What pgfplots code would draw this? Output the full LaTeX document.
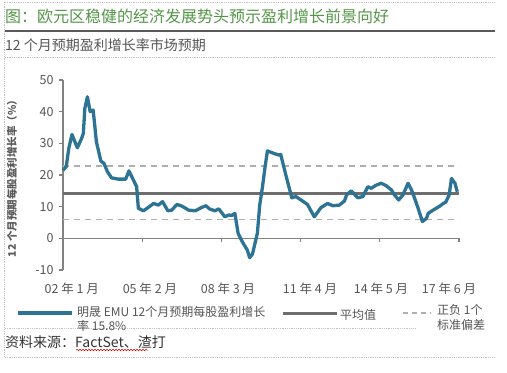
\documentclass[border=0pt]{standalone}
\usepackage{pgfplots}
\pgfplotsset{compat=1.18}
\usepackage{fontspec}
\setmainfont{Noto Sans CJK SC}
\usetikzlibrary{decorations.pathmorphing}
\definecolor{titlegreen}{RGB}{84,150,72}
\definecolor{rulegray}{RGB}{90,90,90}
\definecolor{textgray}{RGB}{85,85,85}
\definecolor{axisgray}{RGB}{130,130,130}
\definecolor{meangray}{RGB}{110,110,110}
\definecolor{dashgray}{RGB}{175,175,175}
\definecolor{dotgray}{RGB}{195,195,195}
\definecolor{seriesblue}{RGB}{45,115,148}
\begin{document}
\begin{tikzpicture}
\path[use as bounding box] (0,0) rectangle (507bp,-373bp);
% frame lines
\draw[dotgray, densely dotted, line width=0.8bp] (5bp,-2bp) -- (495bp,-2bp);
\draw[dotgray, densely dotted, line width=0.8bp] (5bp,-57bp) -- (495bp,-57bp);
\draw[dotgray, densely dotted, line width=0.8bp] (4bp,-2bp) -- (4bp,-357bp);
\draw[dotgray, densely dotted, line width=0.8bp] (5bp,-328bp) -- (415bp,-328bp);
\draw[dotgray, densely dotted, line width=0.8bp] (5bp,-357bp) -- (495bp,-357bp);
\node[anchor=west, inner sep=0, text=titlegreen, font=\fontsize{16bp}{18bp}\selectfont] at (5bp,-16bp) {图：欧元区稳健的经济发展势头预示盈利增长前景向好};
\draw[rulegray, line width=1.3bp] (5bp,-31bp) -- (495bp,-31bp);
\node[anchor=west, inner sep=0, text=textgray, font=\fontsize{14bp}{16bp}\selectfont] at (5bp,-45bp) {12 个月预期盈利增长率市场预期};
\node[rotate=90, inner sep=0, text=rulegray, font=\fontsize{10.5bp}{12bp}\selectfont\bfseries] at (12bp,-176bp) {12 个月预期每股盈利增长率（\%）};
\begin{axis}[
  at={(63bp,-270bp)}, anchor=south west,
  scale only axis, width=396bp, height=190bp,
  xmin=0, xmax=185, ymin=-10, ymax=50,
  axis y line*=left, axis x line*=bottom,
  axis line style={-},
  x axis line style={draw=none},
  y axis line style={draw=axisgray, line width=1.2bp},
  ytick={-10,0,10,20,30,40,50},
  ytick style={draw=axisgray, line width=1.2bp},
  tick align=outside, major tick length=4bp,
  xtick={4.1,40.6,77.1,115.4,148.6,180.3},
  xticklabels={02 年 1 月,05 年 2 月,08 年 3 月,11 年 4 月,14 年 5 月,17 年 6 月},
  xtick style={draw=none},
  xticklabel style={yshift=-5bp},
  /pgf/number format/assume math mode=true,
  ticklabel style={text=textgray, font=\fontsize{12.5bp}{14bp}\selectfont},
  yticklabel style={xshift=-2bp},
  clip=false,
]
\addplot[axisgray, line width=1.2bp] coordinates {(0,0) (185,0)};
\addplot[dashgray, line width=1.4bp, dash pattern=on 6bp off 5bp] coordinates {(0,22.8) (185,22.8)};
\addplot[dashgray, line width=1.4bp, dash pattern=on 6bp off 5bp] coordinates {(0,5.9) (185,5.9)};
\addplot[meangray, line width=3bp] coordinates {(0,14.3) (185,14.3)};
\draw[axisgray, line width=1.2bp] (axis cs:37,0) -- (axis cs:37,-1.3);
\draw[axisgray, line width=1.2bp] (axis cs:74,0) -- (axis cs:74,-1.3);
\draw[axisgray, line width=1.2bp] (axis cs:111,0) -- (axis cs:111,-1.3);
\draw[axisgray, line width=1.2bp] (axis cs:148,0) -- (axis cs:148,-1.3);
\draw[axisgray, line width=1.2bp] (axis cs:185,0) -- (axis cs:185,-1.3);
\addplot[seriesblue, line width=3.3bp, line join=round] coordinates {
(0,21.5) (1.5,22.6) (2.7,28.4) (4.2,32.8) (6.7,28.6) (8.6,31.4) (9.5,33.1)
(10.2,41.0) (11.4,44.7) (12.7,40.0) (14.1,40.5) (15.6,30.5) (17.7,24.4)
(19.1,23.7) (20.8,21.0) (22.7,19.1) (25.8,18.7) (29.3,18.7) (30.8,21.3)
(32.9,18.4) (34.4,16.3) (35.2,9.5) (37.6,8.7) (39.9,9.8) (42.3,11.0)
(44.6,10.5) (46.5,11.6) (49.0,8.7) (50.8,8.9) (53.2,10.7) (55.5,10.2)
(58.7,8.9) (61.8,8.7) (64.9,9.8) (66.8,10.3) (68.4,9.3) (70.9,8.7)
(72.8,9.3) (75.6,6.8) (77.5,7.4) (78.7,7.2) (80.3,7.9) (81.8,1.6)
(83.7,-1.0) (86.1,-3.7) (87.2,-6.1) (88.5,-5.0) (90.8,1.6) (91.9,10.5)
(93.1,15.8) (94.4,22.6) (95.5,27.6) (98.6,26.8) (100.9,26.3) (101.7,26.5)
(104.1,20.0) (106.9,12.8) (108.8,13.2) (111.9,11.8) (114.2,10.7)
(117.4,6.8) (120.5,9.7) (123.6,11.0) (124.7,10.7) (126.0,10.3) (129.1,10.5)
(131.5,11.8) (132.5,13.7) (134.6,15.0) (137.7,12.8) (140.1,13.2)
(142.4,16.3) (144.0,15.8) (146.3,16.8) (148.7,17.4) (151.0,16.6)
(153.4,15.3) (154.9,13.7) (156.8,12.1) (158.8,13.7) (161.2,17.4)
(162.8,15.3) (164.3,12.6) (165.9,9.5) (167.9,5.3) (169.8,6.3) (170.6,7.9)
(172.9,8.9) (176.1,10.2) (177.6,11.0) (178.8,11.4) (180.4,13.7)
(181.5,18.9) (183.1,17.4) (184.2,14.7)
};
\end{axis}
% legend
\draw[seriesblue, line width=3.2bp] (18bp,-313bp) -- (72bp,-313bp);
\node[anchor=west, inner sep=0, text=textgray, font=\fontsize{12bp}{14bp}\selectfont] at (77bp,-312bp) {明晟 EMU 12个月预期每股盈利增长};
\node[anchor=west, inner sep=0, text=textgray, font=\fontsize{12bp}{14bp}\selectfont] at (77bp,-326bp) {率 15.8\%};
\draw[meangray, line width=3bp] (283bp,-313bp) -- (337bp,-313bp);
\node[anchor=west, inner sep=0, text=textgray, font=\fontsize{12bp}{14bp}\selectfont] at (340bp,-315bp) {平均值};
\draw[dashgray, line width=1.4bp, dash pattern=on 5bp off 4bp] (403bp,-313bp) -- (431bp,-313bp);
\node[anchor=west, inner sep=0, text=textgray, font=\fontsize{12bp}{14bp}\selectfont] at (437bp,-310bp) {正负 1个};
\node[anchor=west, inner sep=0, text=textgray, font=\fontsize{12bp}{14bp}\selectfont] at (437bp,-325bp) {标准偏差};
% source
\node[anchor=west, inner sep=0, text=black!80, font=\fontsize{14bp}{16bp}\selectfont] at (5bp,-342bp) {资料来源：FactSet、渣打};
\draw[red!80!black, line width=0.5bp, decorate, decoration={snake, amplitude=0.8bp, segment length=3bp}] (76bp,-350bp) -- (148bp,-350bp);
\end{tikzpicture}
\end{document}
